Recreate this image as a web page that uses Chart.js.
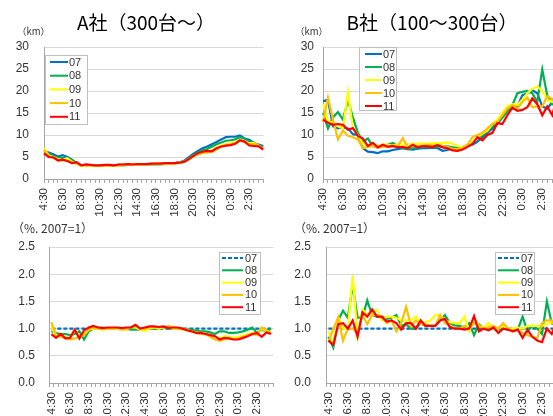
<!DOCTYPE html>
<html><head><meta charset="utf-8">
<script src="https://cdn.jsdelivr.net/npm/chart.js@4"></script>
<style>
html,body{margin:0;padding:0;width:553px;height:416px;overflow:hidden;background:#fff;position:relative}
canvas{position:absolute;display:block}
</style></head><body>
<canvas id="c1" width="282" height="222" style="left:0;top:0"></canvas>
<canvas id="c2" width="300" height="222" style="left:276px;top:0"></canvas>
<canvas id="c3" width="290" height="206" style="left:0;top:210px"></canvas>
<canvas id="c4" width="300" height="206" style="left:276px;top:210px"></canvas>
<script>
const categories = ["4:30","5:00","5:30","6:00","6:30","7:00","7:30","8:00","8:30","9:00","9:30","10:00","10:30","11:00","11:30","12:00","12:30","13:00","13:30","14:00","14:30","15:00","15:30","16:00","16:30","17:00","17:30","18:00","18:30","19:00","19:30","20:00","20:30","21:00","21:30","22:00","22:30","23:00","23:30","0:00","0:30","1:00","1:30","2:00","2:30","3:00","3:30","4:00"];
const seriesNames = ["07","08","09","10","11"];
const seriesColors = ["#0070C0","#00B050","#FFFF00","#FFC000","#FF0000"];
const kmTicks = [0,5,10,15,20,25,30];
const ratioTicks = ["0.0","0.5","1.0","1.5","2.0","2.5"];

// A社 (km)
const a07 = [6.4,6.0,5.6,5.1,5.4,5.0,4.4,3.6,3.1,3.1,3.0,3.0,3.0,3.1,3.1,3.1,3.2,3.2,3.2,3.3,3.3,3.3,3.3,3.4,3.4,3.4,3.5,3.5,3.6,3.8,4.1,4.9,5.7,6.4,7.0,7.4,7.9,8.4,9.0,9.5,9.6,9.6,9.9,9.2,8.9,8.2,7.8,7.5];
const a08 = [6.0,5.7,5.2,4.8,4.8,4.6,4.3,3.5,3.0,3.1,3.0,3.0,3.0,3.0,3.1,3.1,3.1,3.1,3.2,3.2,3.3,3.3,3.3,3.3,3.4,3.4,3.4,3.5,3.5,3.7,4.0,4.6,5.4,6.0,6.5,6.8,7.4,7.9,8.3,8.7,8.8,9.0,9.5,9.2,8.5,8.3,7.6,7.2];
const a09 = [7.0,5.4,5.0,4.5,4.3,4.7,3.9,3.4,3.0,3.1,3.0,3.0,3.0,3.0,3.1,3.1,3.1,3.2,3.3,3.2,3.2,3.3,3.3,3.4,3.4,3.5,3.5,3.5,3.5,3.7,3.9,4.5,5.2,5.8,6.0,6.3,6.5,7.2,7.6,7.9,8.1,8.4,8.9,8.6,8.1,8.2,7.5,6.8];
const a10 = [6.6,5.3,4.8,4.3,4.2,4.1,3.8,3.5,3.1,3.2,3.1,3.0,3.0,3.0,3.2,3.1,3.1,3.3,3.4,3.3,3.3,3.4,3.4,3.5,3.5,3.6,3.6,3.5,3.6,3.7,3.9,4.5,5.1,5.6,5.9,6.0,6.2,6.7,7.4,7.7,7.9,8.2,8.7,8.5,7.9,8.0,7.6,6.8];
const a11 = [5.8,5.0,4.9,4.2,4.4,4.1,3.6,3.8,3.1,3.3,3.2,3.1,3.1,3.2,3.2,3.1,3.3,3.3,3.4,3.3,3.4,3.4,3.4,3.5,3.5,3.5,3.6,3.6,3.6,3.7,3.9,4.5,5.2,5.9,6.2,6.4,6.3,7.0,7.4,7.6,7.7,8.0,8.8,8.5,7.6,7.5,7.4,6.7];

// B社 (km)
const b07 = [17.7,18.0,12.0,11.5,11.8,11.5,10.2,10.0,7.0,6.2,6.1,5.9,6.3,6.3,6.6,6.8,7.0,6.8,6.7,6.9,7.0,7.0,7.1,7.0,6.4,6.6,7.0,6.9,6.8,7.5,7.8,8.5,9.5,10.5,11.5,12.5,14.0,15.5,16.5,16.5,19.0,19.5,20.2,19.5,16.5,16.0,17.5,18.0];
const b08 = [15.0,11.5,14.0,15.2,13.5,17.9,14.0,10.5,8.5,9.2,7.5,7.2,7.5,7.8,8.2,7.5,7.0,6.8,7.0,7.2,7.3,7.3,7.4,7.3,7.5,7.4,7.2,7.0,7.2,7.8,8.5,9.3,10.0,11.0,12.0,13.0,14.0,15.5,16.8,19.5,19.8,20.0,19.5,17.5,24.9,19.0,17.0,18.0];
const b09 = [17.0,13.0,13.0,12.0,11.5,19.8,11.5,10.0,8.0,7.6,7.8,7.6,7.8,7.8,7.5,8.0,7.8,7.9,8.0,8.0,8.1,8.0,8.2,8.1,8.2,8.3,8.0,7.5,7.2,7.8,8.5,9.5,10.3,11.0,12.5,13.5,15.0,16.5,17.0,16.8,18.0,19.5,20.5,21.0,20.0,18.0,17.5,18.0];
const b10 = [13.0,18.5,13.5,9.0,11.0,9.8,9.5,9.0,7.0,7.3,7.5,7.2,7.3,7.5,7.3,7.5,9.3,7.2,7.5,7.4,7.6,7.8,7.6,7.8,7.5,7.3,6.8,6.8,7.0,7.8,9.5,10.0,10.5,11.5,12.5,13.0,14.5,16.0,16.8,16.0,17.5,18.5,16.3,16.5,16.5,18.8,18.2,17.5];
const b11 = [13.5,12.8,12.3,12.5,12.3,11.2,11.6,9.8,9.2,7.5,8.2,7.2,7.8,7.3,7.5,7.2,7.3,7.0,7.8,7.2,7.5,7.4,7.3,7.7,7.2,7.0,6.5,6.4,6.7,7.3,8.0,9.5,8.8,10.0,10.5,12.7,12.5,14.5,16.2,15.5,15.7,16.3,18.3,17.0,14.5,16.5,14.5,18.8];

// A社 ratio (2007=1)
const ra07 = [1,1,1,1,1,1,1,1,1,1,1,1,1,1,1,1,1,1,1,1,1,1,1,1,1,1,1,1,1,1,1,1,1,1,1,1,1,1,1,1,1,1,1,1,1,1,1,1];
const ra08 = [0.95,0.92,0.90,0.90,0.88,0.90,0.95,0.80,0.95,1.00,1.02,1.02,1.00,1.00,1.00,0.98,1.00,0.98,0.98,0.98,1.00,1.00,1.00,1.00,1.02,1.00,1.00,1.00,1.00,0.98,0.98,0.96,0.95,0.95,0.93,0.90,0.95,0.95,0.92,0.92,0.93,0.95,0.98,1.02,0.92,0.98,0.95,1.00];
const ra09 = [1.05,0.85,0.88,0.85,0.82,0.98,0.85,0.90,0.98,1.00,1.00,0.98,1.00,1.00,1.00,0.98,1.00,1.02,1.02,0.98,0.96,1.00,1.02,1.00,1.02,1.03,1.00,1.00,0.98,0.97,0.95,0.93,0.92,0.90,0.88,0.85,0.82,0.86,0.85,0.83,0.85,0.87,0.90,0.92,0.90,1.00,0.95,0.92];
const ra10 = [1.12,0.88,0.85,0.82,0.80,0.82,0.85,0.88,0.98,1.02,1.00,1.00,1.00,1.00,1.02,1.00,0.98,1.02,1.05,1.00,1.00,1.02,1.02,1.03,1.02,1.05,1.03,1.00,1.00,0.98,0.95,0.92,0.90,0.90,0.85,0.80,0.78,0.80,0.82,0.80,0.82,0.85,0.88,0.90,0.88,1.02,0.97,0.92];
const ra11 = [0.90,0.83,0.90,0.82,0.83,0.98,0.82,0.97,1.02,1.05,1.02,1.01,1.02,1.02,1.02,1.01,1.02,1.02,1.07,1.00,1.02,1.04,1.04,1.03,1.04,1.01,1.02,1.02,1.00,0.97,0.95,0.92,0.92,0.90,0.88,0.86,0.80,0.83,0.82,0.80,0.80,0.83,0.86,0.90,0.92,0.85,0.93,0.90];

// B社 ratio (2007=1)
const rb07 = [1,1,1,1,1,1,1,1,1,1,1,1,1,1,1,1,1,1,1,1,1,1,1,1,1,1,1,1,1,1,1,1,1,1,1,1,1,1,1,1,1,1,1,1,1,1,1,1];
const rb08 = [0.85,0.65,1.15,1.33,1.20,1.80,1.20,1.20,1.52,1.25,1.22,1.22,1.18,1.20,1.25,1.05,1.08,1.00,1.00,1.10,1.05,1.05,1.05,1.15,1.25,1.10,1.06,1.05,1.02,1.10,0.88,1.08,1.00,1.02,1.00,0.98,1.00,0.98,0.97,0.98,1.22,0.95,1.05,1.00,0.90,1.50,1.10,1.05];
const rb09 = [0.95,0.72,1.22,1.00,1.00,1.98,0.85,1.35,1.25,1.30,1.35,1.15,1.22,1.22,1.20,1.15,1.15,1.15,1.22,1.10,1.12,1.15,1.25,1.25,1.15,1.12,1.10,1.10,1.22,0.95,1.20,1.05,1.02,1.10,1.00,1.00,1.05,1.00,1.00,1.02,1.00,1.05,1.05,1.05,1.05,1.08,1.12,1.05];
const rb10 = [0.75,1.00,1.20,0.78,1.00,1.00,0.90,1.25,1.08,1.25,1.25,1.20,1.10,1.15,0.95,1.10,1.40,1.05,1.15,1.08,1.08,1.05,1.05,1.25,1.10,1.05,1.00,1.00,1.05,1.00,1.10,1.05,1.00,1.02,1.05,1.00,1.10,1.00,0.95,0.98,0.92,0.88,0.85,0.82,1.10,1.15,1.15,1.00];
const rb11 = [0.78,0.70,1.08,1.10,1.00,1.15,0.85,1.30,1.22,1.35,1.22,1.22,1.13,1.15,1.10,0.98,1.10,1.10,1.00,1.15,1.05,1.05,1.05,1.15,1.18,1.03,1.00,1.00,0.98,1.00,1.23,0.95,1.00,0.97,1.02,0.92,1.00,0.98,0.95,0.98,0.83,0.98,0.85,0.78,0.75,1.00,0.90,1.10];

const TXT = '#333333';
const TICKFONT = '"Liberation Sans", Arial, sans-serif';
const JP = '"Noto Sans CJK JP", sans-serif';

const deco = {
  id: 'deco',
  afterDraw(chart, args, o) {
    const ctx = chart.ctx, a = chart.chartArea;
    ctx.save();
    ctx.fillStyle = '#000';
    ctx.textBaseline = 'middle';
    if (o.title) {
      ctx.font = '19px ' + JP;
      ctx.textAlign = 'center';
      ctx.fillText(o.title, o.titleX, o.titleY);
    }
    ctx.font = o.unitFont;
    ctx.textAlign = 'left';
    ctx.fillStyle = TXT;
    ctx.fillText(o.unit, o.unitX, o.unitY);
    const L = o.legend;
    const bx = a.left + L.dx, by = a.top + L.dy;
    ctx.fillStyle = '#fff';
    ctx.fillRect(bx, by, L.w, L.h);
    ctx.strokeStyle = '#bfbfbf';
    ctx.lineWidth = 1;
    ctx.strokeRect(Math.round(bx) + 0.5, Math.round(by) + 0.5, L.w, L.h);
    chart.data.datasets.forEach((ds, i) => {
      const y = by + L.r0 + i * L.step;
      ctx.strokeStyle = ds.borderColor;
      ctx.lineWidth = 2;
      ctx.setLineDash(ds.borderDash || []);
      ctx.beginPath();
      ctx.moveTo(a.left + L.l0, y);
      ctx.lineTo(a.left + L.l1, y);
      ctx.stroke();
      ctx.setLineDash([]);
      ctx.fillStyle = TXT;
      ctx.font = '11px ' + TICKFONT;
      ctx.textAlign = 'left';
      ctx.fillText(ds.label, a.left + L.tx, y + 0.5);
    });
    ctx.restore();
  }
};

function makeDatasets(arrs, dashedFirst) {
  return arrs.map((d, i) => ({
    label: seriesNames[i],
    data: d,
    order: arrs.length - i,
    borderColor: seriesColors[i],
    backgroundColor: seriesColors[i],
    borderWidth: 2.2,
    borderDash: (dashedFirst && i === 0) ? [4, 2] : [],
    pointRadius: 0,
    tension: 0,
    fill: false
  }));
}

function makeChart(id, cfg) {
  const isRatio = cfg.ratio;
  return new Chart(document.getElementById(id), {
    type: 'line',
    data: { labels: categories, datasets: makeDatasets(cfg.data, isRatio) },
    plugins: [deco],
    options: {
      responsive: false,
      animation: false,
      devicePixelRatio: 1,
      layout: { padding: { left: 0, top: cfg.top, right: cfg.right, bottom: 0 } },
      plugins: {
        legend: { display: false },
        tooltip: { enabled: false },
        title: { display: false },
        deco: cfg.deco
      },
      scales: {
        x: {
          type: 'category',
          offset: isRatio,
          afterFit(s) { s.height = cfg.xh; },
          grid: { display: true, drawOnChartArea: false, drawTicks: true, tickLength: 4, color: '#a6a6a6', offset: isRatio },
          border: { display: true, color: '#a6a6a6', width: 1 },
          ticks: {
            autoSkip: false, minRotation: 90, maxRotation: 90, padding: 5,
            color: TXT, font: { family: TICKFONT, size: 11.5 },
            callback(v, i) { return i % 4 === 0 ? categories[i] : ''; }
          }
        },
        y: {
          min: 0,
          max: isRatio ? 2.5 : 30,
          afterFit(s) { s.width = cfg.yw; },
          afterBuildTicks(s) {
            s.ticks = (isRatio ? ratioTicks.map(Number) : kmTicks).map(v => ({ value: v }));
          },
          grid: { color: '#d9d9d9', drawTicks: false, lineWidth: 1 },
          border: { display: true, color: '#a6a6a6', width: 1 },
          ticks: {
            padding: cfg.ypad,
            color: TXT, font: { family: TICKFONT, size: 12 },
            callback(v) { return isRatio ? ratioTicks[Math.round(v * 2)] : String(v); }
          }
        }
      }
    }
  });
}

makeChart('c1', {
  data: [a07, a08, a09, a10, a11], ratio: false,
  top: 47, right: 12, xh: 43, yw: 44, ypad: 15,
  deco: { title: 'A社（300台～）', titleX: 146, titleY: 23, unit: '（km）', unitX: 17, unitY: 31, unitFont: '9.5px ' + JP,
    legend: { dx: 1, dy: 8, w: 42, h: 69, r0: 7, step: 13.7, l0: 6, l1: 24, tx: 25 } }
});
makeChart('c2', {
  data: [b07, b08, b09, b10, b11], ratio: false,
  top: 47, right: 18, xh: 43, yw: 47, ypad: 9,
  deco: { title: 'B社（100～300台）', titleX: 156, titleY: 23, unit: '（km）', unitX: 19, unitY: 31, unitFont: '9.5px ' + JP,
    legend: { dx: 36, dy: 0, w: 37, h: 63, r0: 7, step: 13, l0: 42, l1: 59, tx: 60 } }
});
makeChart('c3', {
  data: [ra07, ra08, ra09, ra10, ra11], ratio: true,
  top: 37, right: 16, xh: 33, yw: 49, ypad: 14,
  deco: { title: '', unit: '（%. 2007=1）', unitX: 12, unitY: 18, unitFont: '12px ' + JP,
    legend: { dx: 170, dy: 5, w: 41, h: 62, r0: 6, step: 12.3, l0: 173, l1: 194, tx: 196 } }
});
makeChart('c4', {
  data: [rb07, rb08, rb09, rb10, rb11], ratio: true,
  top: 37, right: 17, xh: 33, yw: 50, ypad: 15,
  deco: { title: '', unit: '（%. 2007=1）', unitX: 18, unitY: 18, unitFont: '12px ' + JP,
    legend: { dx: 169, dy: 5, w: 39, h: 62, r0: 6, step: 12.3, l0: 172, l1: 193, tx: 195 } }
});
</script>
</body></html>
